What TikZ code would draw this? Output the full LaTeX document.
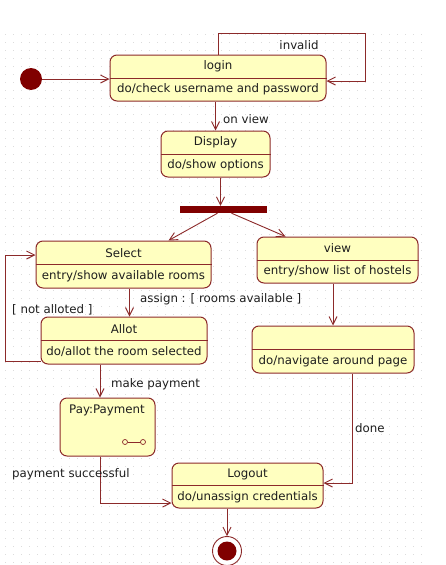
\documentclass[tikz,border=0pt]{standalone}
\usepackage{fontspec}
\newfontfamily\umlfont{DejaVu Sans}
\usetikzlibrary{arrows.meta}
\definecolor{umlred}{HTML}{800000}
\definecolor{umlline}{HTML}{8C2A2A}
\definecolor{umlfill}{HTML}{FFFFC0}
\definecolor{umltext}{HTML}{1E1E1E}
\definecolor{gridgray}{HTML}{DCDCDC}
\begin{document}
\begin{tikzpicture}[x=1pt,y=-1pt,
  statebox/.style={draw=umlline,fill=umlfill,rounded corners=7pt,line width=1pt,inner sep=0pt},
  divider/.style={draw=umlline,line width=1pt},
  stext/.style={font=\umlfont\fontsize{11.8}{14}\selectfont,text=umltext,inner sep=1pt},
  flow/.style={draw=umlline,line width=0.9pt,-{Straight Barb[length=8pt,width=8pt]}},
  griddot/.style={draw=gridgray,line width=1pt,dash pattern=on 1pt off 7pt}]
\useasboundingbox (0,0) rectangle (445,565);
\fill[white] (0,0) rectangle (445,565);
% background grid
\foreach \gy in {34,42,...,562}
  \draw[griddot] (5,\gy) -- (426,\gy);
% states
\node[statebox,minimum width=216pt,minimum height=46pt] (login) at (218,78) {};
\draw[divider] (login.west) -- (login.east);
\node[stext] (loginT) at ([yshift=11.5pt]login.center) {login};
\node[stext] (loginB) at ([yshift=-11.5pt]login.center) {do/check username and password};
\node[statebox,minimum width=109pt,minimum height=46pt] (display) at (215.5,154) {};
\draw[divider] (display.west) -- (display.east);
\node[stext] (displayT) at ([yshift=11.5pt]display.center) {Display};
\node[stext] (displayB) at ([yshift=-11.5pt]display.center) {do/show options};
\node[statebox,minimum width=175pt,minimum height=47pt] (select) at (123.5,264.5) {};
\draw[divider] (select.west) -- (select.east);
\node[stext] (selectT) at ([yshift=11.5pt]select.center) {Select};
\node[stext] (selectB) at ([yshift=-11.5pt]select.center) {entry/show available rooms};
\node[statebox,minimum width=161pt,minimum height=46pt] (view) at (337.5,260) {};
\draw[divider] (view.west) -- (view.east);
\node[stext] (viewT) at ([yshift=11.5pt]view.center) {view};
\node[stext] (viewB) at ([yshift=-11.5pt]view.center) {entry/show list of hostels};
\node[statebox,minimum width=166pt,minimum height=47pt] (allot) at (124,340.5) {};
\draw[divider] (allot.west) -- (allot.east);
\node[stext] (allotT) at ([yshift=11.5pt]allot.center) {Allot};
\node[stext] (allotB) at ([yshift=-11.5pt]allot.center) {do/allot the room selected};
\node[statebox,minimum width=162pt,minimum height=47pt] (navigate) at (333,349.5) {};
\draw[divider] (navigate.west) -- (navigate.east);
\node[stext] (navigateB) at ([yshift=-11.5pt]navigate.center) {do/navigate around page};
\node[statebox,minimum width=95pt,minimum height=58pt] (pay) at (107.5,427) {};
\node[stext] (payT) at (107,410) {Pay:Payment};
\draw[umlline,line width=0.7pt] (127.5,442) -- (140.5,442);
\draw[umlline,line width=0.7pt,fill=umlfill] (125,442) circle (2.5pt) (143,442) circle (2.5pt);
\node[statebox,minimum width=151pt,minimum height=45pt] (logout) at (247.5,485.5) {};
\draw[divider] (logout.west) -- (logout.east);
\node[stext] (logoutT) at ([yshift=11.5pt]logout.center) {Logout};
\node[stext] (logoutB) at ([yshift=-11.5pt]logout.center) {do/unassign credentials};
% pseudo states
\node[circle,fill=umlred,minimum size=22pt,inner sep=0pt] (start) at (31,79) {};
\node[fill=umlred,minimum width=87pt,minimum height=7pt,inner sep=0pt] (fork) at (223.5,209.5) {};
\node[circle,draw=umlline,line width=0.9pt,fill=white,minimum size=29pt,inner sep=0pt] (stop) at (227,551) {};
\node[circle,fill=umlred,minimum size=19pt,inner sep=0pt] (stopdot) at (stop.center) {};
% transitions
\coordinate (invR) at (365,33);
\coordinate (nalL) at (5,255);
\draw[flow] (start) -- (start -| login.west);
\draw[flow] (login.north) |- (invR) |- ([yshift=-3pt]login.east);
\node[stext] (invalidL) at (299,45) {invalid};
\draw[flow] (display.north |- login.south) -- (display.north);
\node[stext,anchor=west] (onviewL) at (222,119) {on view};
\draw[flow] ([xshift=5pt]display.south) -- ([xshift=5pt]display.south |- fork.north);
\draw[flow] ([xshift=-6pt]fork.south) -- ([xshift=45pt]select.north);
\draw[flow] ([xshift=8pt]fork.south) -- ([xshift=-52pt]view.north);
\draw[flow] ([xshift=6pt]select.south) -- ([xshift=6pt]select.south |- allot.north);
\node[stext,anchor=west] (assignL) at (139,299) {assign : [ rooms available ]};
\draw[flow] ([yshift=3pt]allot.south west) -| (nalL) -- ([yshift=9.5pt]select.west);
\node[stext,anchor=west] (notallotL) at (11,310) {[ not alloted ]};
\draw[flow] (navigate.north |- view.south) -- (navigate.north);
\draw[flow] ([xshift=-7.5pt]pay.north |- allot.south) -- ([xshift=-7.5pt]pay.north);
\node[stext,anchor=west] (paymentL) at (110,384) {make payment};
\draw[flow] ([xshift=-7.5pt]pay.south) |- ([yshift=-17.5pt]logout.west);
\node[stext,anchor=west] (successL) at (11,474) {payment successful};
\draw[flow] ([xshift=19pt]navigate.south) |- ([yshift=2.5pt]logout.east);
\node[stext,anchor=west] (doneL) at (354,428) {done};
\draw[flow] (stop.north |- logout.south) -- (stop.north);
\end{tikzpicture}
\end{document}
